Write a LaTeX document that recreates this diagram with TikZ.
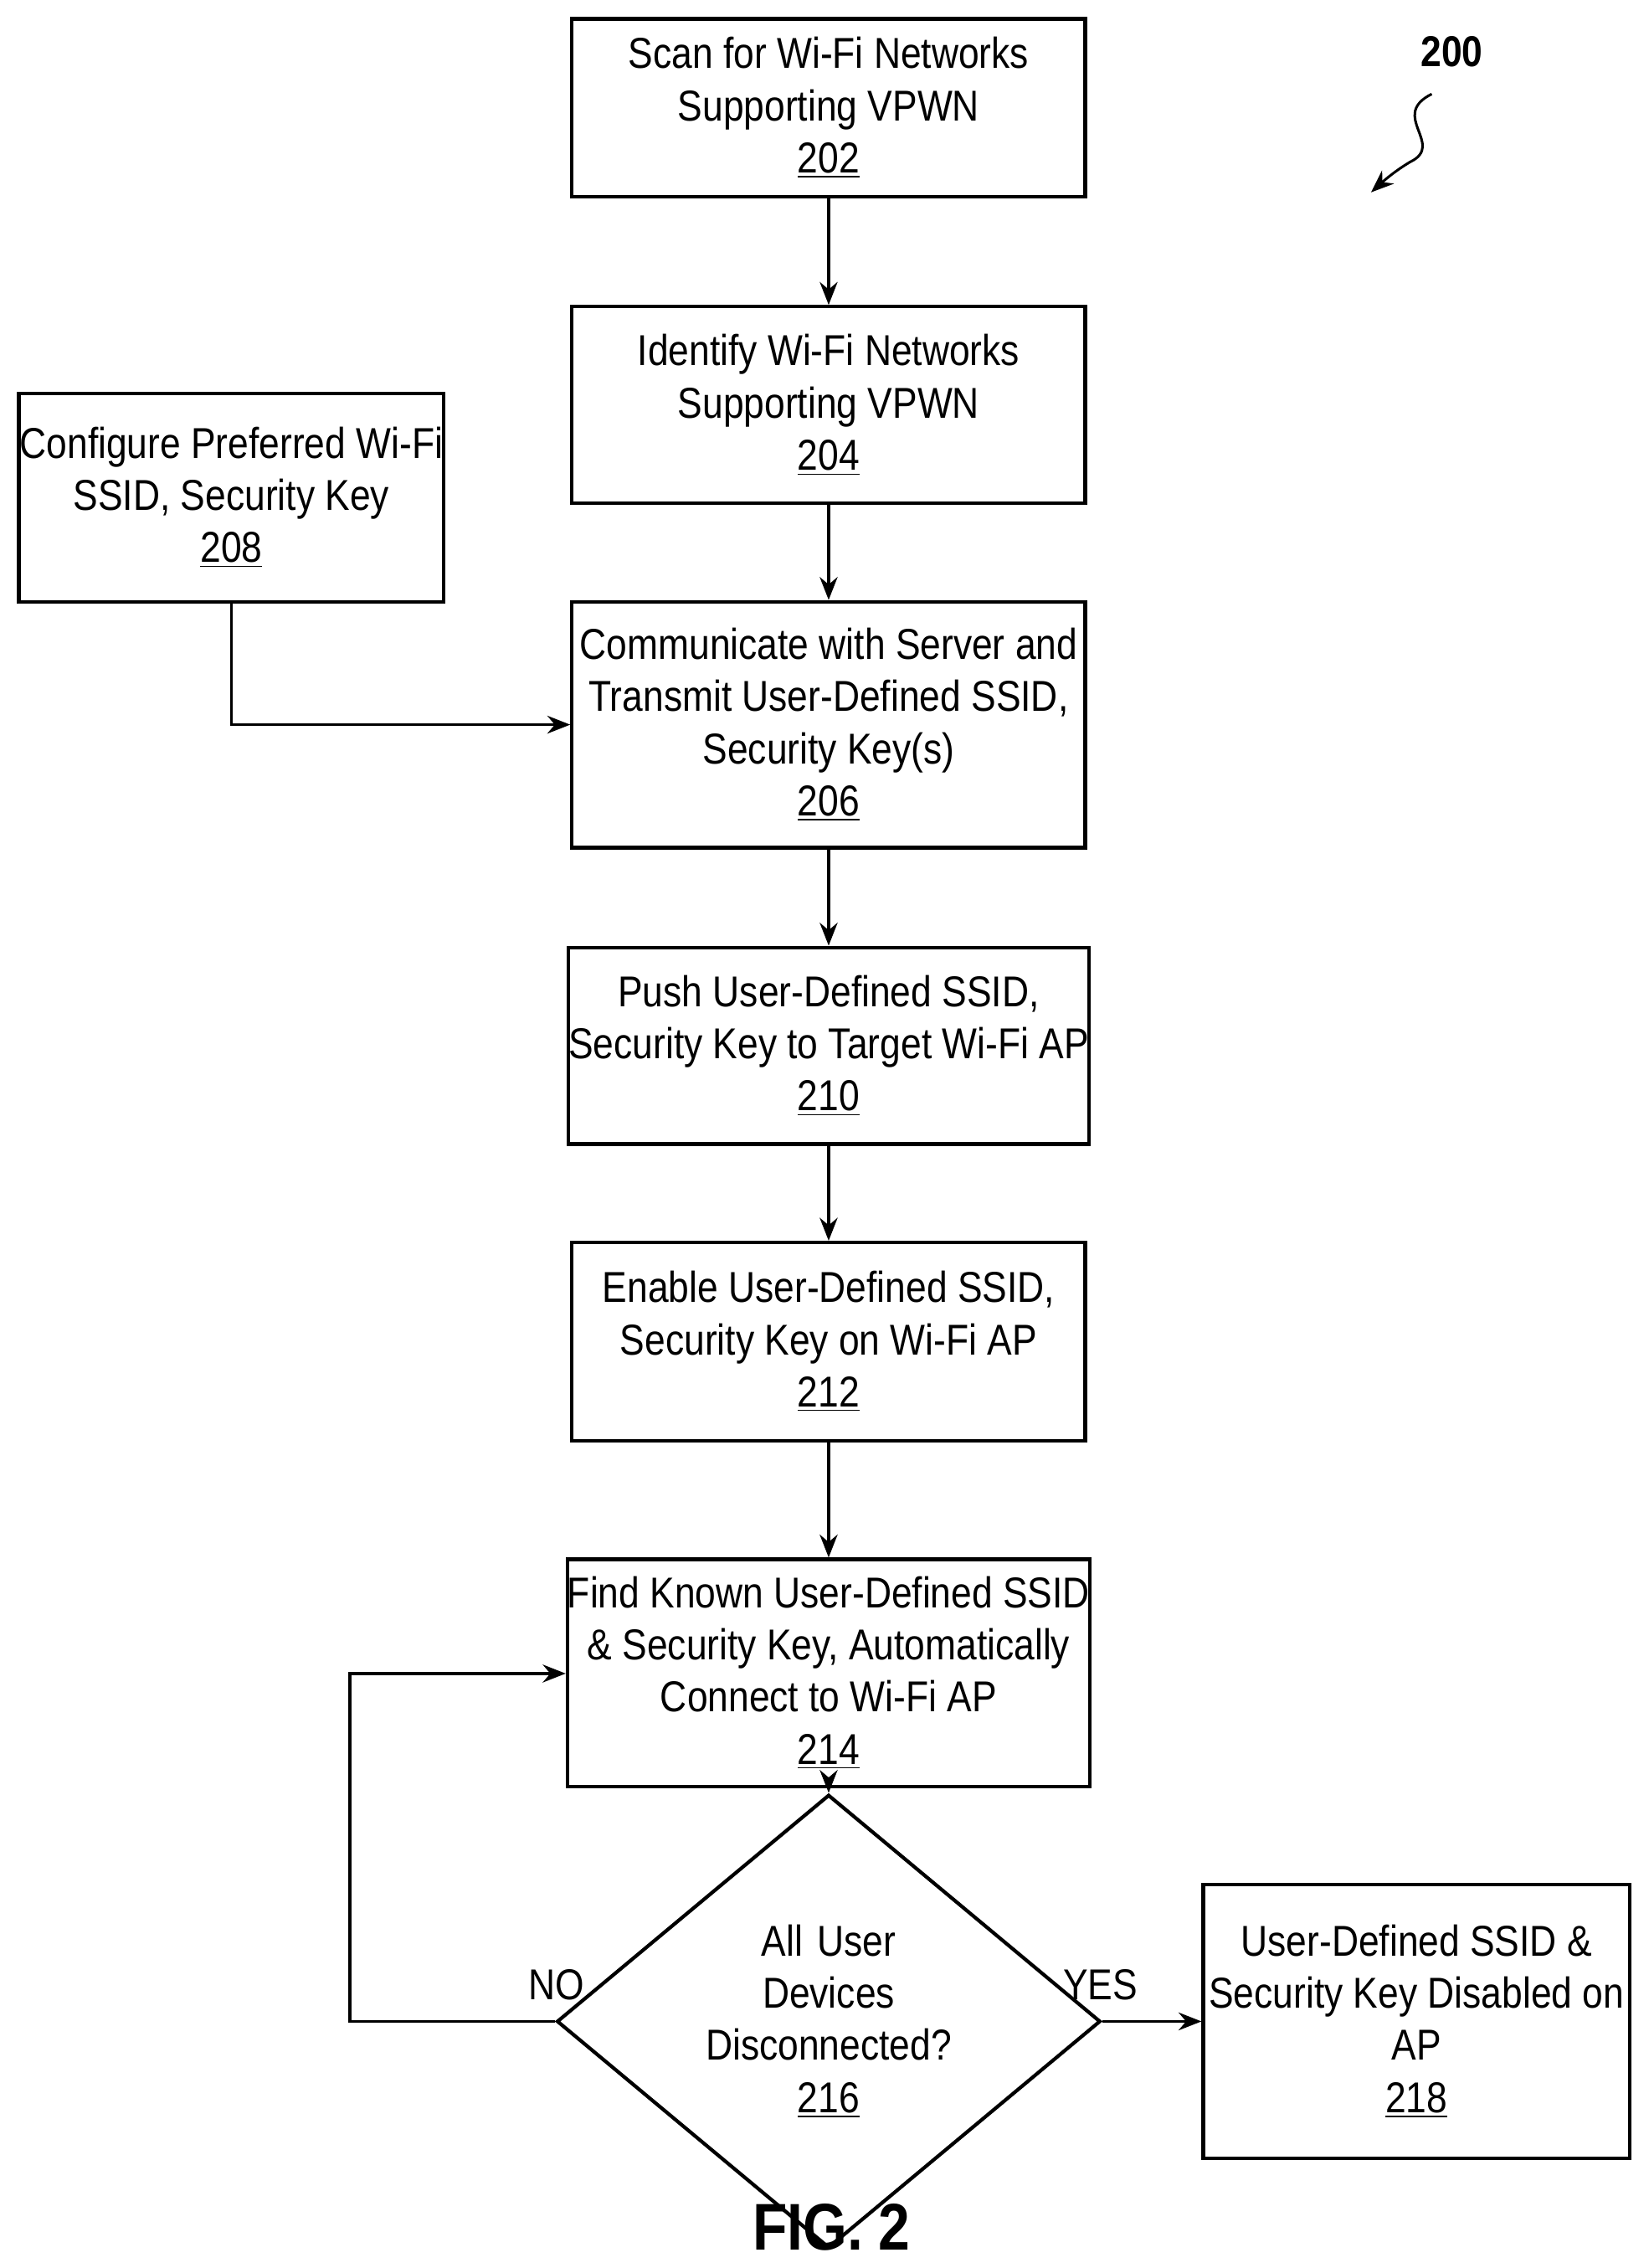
\documentclass[tikz,border=0pt]{standalone}
\usepackage{fontspec}
\setmainfont{Liberation Sans}[FakeStretch=0.86]
\usetikzlibrary{shapes.geometric,arrows.meta}
\begin{document}
\begin{tikzpicture}[x=0.02cm,y=-0.02cm,
  box/.style={draw,line width=1.4pt,inner sep=0,align=center,font=\fontsize{17}{20.5}\selectfont},
  arr/.style={line width=1.2pt,-{Stealth[length=9pt,width=7pt]}}]
\useasboundingbox (0,0) rectangle (1140,1568);
\node[box,minimum width=7.1cm,minimum height=2.46cm] (b202) at (573,74.5) {Scan for Wi-Fi Networks\\Supporting VPWN\\\underline{202}};
\node[box,minimum width=7.1cm,minimum height=2.72cm] (b204) at (573,280) {Identify Wi-Fi Networks\\Supporting VPWN\\\underline{204}};
\node[box,minimum width=5.88cm,minimum height=2.88cm] (b208) at (160,344) {Configure Preferred Wi-Fi\\SSID, Security Key\\\underline{208}};
\node[box,minimum width=7.1cm,minimum height=3.4cm] (b206) at (573,501) {Communicate with Server and\\Transmit User-Defined SSID,\\Security Key(s)\\\underline{206}};
\node[box,minimum width=7.1cm,minimum height=2.72cm] (b210) at (573,723) {Push User-Defined SSID,\\Security Key to Target Wi-Fi AP\\\underline{210}};
\node[box,minimum width=7.1cm,minimum height=2.74cm] (b212) at (573,927.5) {Enable User-Defined SSID,\\Security Key on Wi-Fi AP\\\underline{212}};
\node[box,minimum width=7.1cm,minimum height=3.14cm] (b214) at (573,1156.5) {Find Known User-Defined SSID\\\& Security Key, Automatically\\Connect to Wi-Fi AP\\\underline{214}};
\node[box,diamond,minimum width=7.52cm,minimum height=3.7cm,text width=3.6cm] (b216) at (573,1397.5) {All User Devices\\Disconnected?\\\underline{216}};
\node[box,minimum width=5.9cm,minimum height=3.78cm] (b218) at (979.5,1397.5) {User-Defined SSID \&\\Security Key Disabled on\\AP\\\underline{218}};
\draw[arr] (b202) -- (b204);
\draw[arr] (b204) -- (b206);
\draw[arr] (b206) -- (b210);
\draw[arr] (b210) -- (b212);
\draw[arr] (b212) -- (b214);
\draw[arr] (b214) -- (b216);
\draw[arr] (b216.east) -- (b218.west);
\coordinate (c1) at (160,501);
\draw[arr] (b208.south) -- (c1) -- (b206.west);
\coordinate (c2) at (242,1397.5);
\coordinate (c3) at (242,1157);
\draw[arr] (b216.west) -- (c2) -- (c3) -- (b214.west|-c3);
\node[font=\fontsize{17}{20}\selectfont] (no) at (385,1372) {NO};
\node[font=\fontsize{17}{20}\selectfont] (yes) at (761,1372) {YES};
\node[font=\bfseries\fontsize{17}{20}\selectfont] (l200) at (1004,36) {200};
\coordinate (s1) at (990,65);
\coordinate (s2) at (948,133);
\draw[arr,line width=1pt] (s1) .. controls (960,80) and (1000,100) .. (975,112) .. controls (965,118) and (958,124) .. (s2);
\node[font=\bfseries\fontsize{26}{30}\selectfont] (fig) at (575,1540) {FIG. 2};
\end{tikzpicture}
\end{document}
